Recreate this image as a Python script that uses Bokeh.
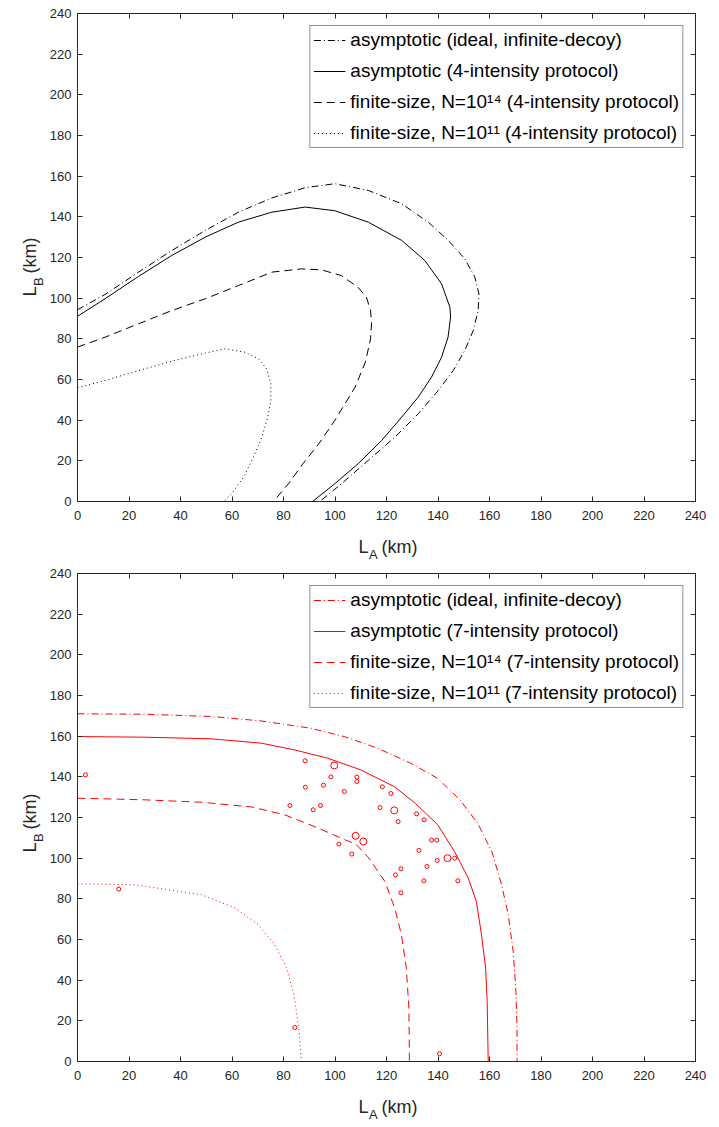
import math
from bokeh.plotting import figure
from bokeh.models import (Range1d, LinearAxis, FixedTicker, Legend, LegendItem, CustomJSTickFormatter)
from bokeh.layouts import column, row
from bokeh.embed import file_html
from bokeh.resources import INLINE
from bokeh.core.properties import value

# ---------------- data ----------------
ticks = [0, 20, 40, 60, 80, 100, 120, 140, 160, 180, 200, 220, 240]

# top panel (4-intensity protocol)
top_ideal_x = [0, 10.7, 23.7, 36.6, 49.6, 62.5, 75.5, 88.4, 99.9, 112.9, 125.9, 136.2, 144, 150.4, 154.3, 155.9,
               155.6, 153.7, 150.4, 145.9, 140.1, 132.3, 123.2, 112.9, 102.5, 94.1]
top_ideal_y = [94.3, 101.8, 112.8, 123.4, 133.3, 142.3, 149.3, 154.3, 156.3, 153, 146.4, 137.4, 128.4, 119.4, 110.3,
               102.1, 94, 84.1, 74.3, 64.4, 54.6, 43.1, 31.6, 20.2, 8.7, 0]

top_asym_x = [0, 10.7, 23.7, 36.6, 49.6, 62.5, 75.5, 88.4, 99.9, 112.9, 125.9, 134.9, 141.4, 144.6, 144.9, 143.9,
              141.4, 137.5, 132.3, 125.9, 118.1, 109, 99.9, 91.3]
top_asym_y = [91.1, 99.7, 110.7, 121, 130, 137.4, 142.3, 144.8, 143, 137.4, 128.4, 118.5, 107, 95.6, 90.7, 80.8,
              71, 61.2, 51.3, 41.5, 30, 18.6, 8.7, 0]

top_n14_x = [0, 10.7, 23.7, 36.6, 49.6, 62.5, 75.5, 87, 94.8, 102.5, 108.9, 112.2, 113.8, 114.2, 113.8, 111.8,
             107.7, 100, 93.5, 87.5, 81.9, 76.1]
top_n14_y = [75.9, 80.8, 87.4, 93.9, 99.7, 106.2, 112.8, 114.4, 113.9, 111.1, 105.4, 100.5, 93.9, 87.4, 80, 68.5,
             56, 40, 28, 18.5, 8.7, 0]

top_n11_x = [0, 10.7, 23.7, 36.6, 49.6, 57.3, 65.1, 70.3, 73.5, 75.1, 75.1, 73.9, 71.6, 68.3, 64.5, 59.9, 56.7]
top_n11_y = [55.9, 59.5, 64.4, 69, 73, 75.1, 73.4, 70.2, 65.2, 57.9, 49.7, 41.5, 31.6, 21.8, 12, 3.8, 0]

# bottom panel (7-intensity protocol)
bot_ideal_x = [0, 25.9, 51.8, 71.2, 90.6, 103.6, 116.5, 129.4, 139.8, 148.5, 155.5, 161, 164.7, 167.3, 169.2,
               170.2, 170.7, 170.7]
bot_ideal_y = [171, 170.8, 169.7, 167.5, 163.9, 159.8, 154.1, 146.7, 139.3, 128.7, 117, 102.9, 86.9, 72.1, 54.1,
               36.1, 16.4, 0]

bot_asym_x = [0, 25.9, 51.8, 71.2, 84.1, 97.1, 110, 123, 131.2, 139.9, 146.4, 151.7, 154.9, 156.9, 158.5, 159.1,
              159.5]
bot_asym_y = [159.8, 159.5, 158.7, 156.6, 153.3, 149.2, 143.4, 135.2, 127, 116.4, 103.3, 90.3, 78.7, 62.3, 45.9,
              29.5, 0]

bot_n14_x = [0, 25.9, 48.2, 67.6, 80.5, 93.5, 103.9, 108, 112.9, 119.4, 123.2, 125.8, 127.7, 128.7, 128.9]
bot_n14_y = [129.5, 128.7, 127.5, 125.2, 121.3, 114.8, 109, 107, 100.5, 88.5, 75.4, 62.3, 45.9, 26.2, 0]

bot_n11_x = [0, 22.3, 48.2, 61.2, 70.2, 76.6, 81.2, 84.1, 85.9, 87]
bot_n11_y = [87.4, 86.9, 82, 75.5, 67.3, 57.4, 45.9, 32.8, 16.4, 0]

# small closed contour artefacts in bottom panel
art_small_x = [3.1, 16, 88.4, 88.5, 95.5, 98.4, 108.5, 108.5, 103.6, 82.5, 91.5, 94.4, 118.4, 121.7, 117.5,
               124.5, 131.7, 134.6, 137.5, 139.5, 101.5, 106.5, 132.6, 139.7, 146.5, 135.7, 125.6, 123.5,
               134.5, 147.7, 125.6, 84.4, 140.6]
art_small_y = [141, 84.8, 147.9, 134.9, 135.9, 140, 139.9, 137.7, 132.8, 125.9, 123.8, 125.9, 135.1, 131.8,
               124.9, 118, 121.8, 118.9, 108.9, 108.9, 106.9, 102, 103.8, 98.9, 100, 95.9, 94.8, 91.8,
               88.9, 88.9, 83, 16.7, 3.8]
art_big_x = [99.7, 123, 108, 111, 143.7]
art_big_y = [145.6, 123.5, 111, 108.2, 100]

top_labels = ["asymptotic (ideal, infinite-decoy)",
              "asymptotic (4-intensity protocol)",
              "finite-size, N=10\u00b9\u2074 (4-intensity protocol)",
              "finite-size, N=10\u00b9\u00b9 (4-intensity protocol)"]
bot_labels = ["asymptotic (ideal, infinite-decoy)",
              "asymptotic (7-intensity protocol)",
              "finite-size, N=10\u00b9\u2074 (7-intensity protocol)",
              "finite-size, N=10\u00b9\u00b9 (7-intensity protocol)"]

x_title = ["L", "A", "(km)"]
y_title = ["L", "B", "(km)"]

FONT = "Liberation Sans"
AX = "#262626"
DASHES = ["7 3 1 3", "solid", "8 5", "1 3"]

# layout (pixels)
PAGE_W = 719
YLAB_W = 46
FRAME_W = 618
FRAME_H = 488
BOTTOM_B = 27


def make_fig(series, labels, color, top_border):
    p = figure(frame_width=FRAME_W, frame_height=FRAME_H, x_range=Range1d(0, 240), y_range=Range1d(0, 240),
               output_backend="svg", toolbar_location=None,
               min_border_left=76 - YLAB_W, min_border_right=PAGE_W - 76 - FRAME_W,
               min_border_top=top_border, min_border_bottom=BOTTOM_B,
               x_axis_type=None, y_axis_type=None)
    p.grid.visible = False
    p.outline_line_color = AX
    p.outline_line_width = 1
    p.background_fill_color = "white"
    p.border_fill_color = "white"

    def style(ax, labels_on=True):
        ax.ticker = FixedTicker(ticks=ticks)
        ax.major_tick_in = 5
        ax.major_tick_out = 0
        ax.minor_tick_line_color = None
        ax.axis_line_color = AX
        ax.major_tick_line_color = AX
        ax.major_label_text_font = FONT
        ax.major_label_text_font_size = "13px"
        ax.major_label_text_color = AX
        if not labels_on:
            ax.formatter = CustomJSTickFormatter(code="return ''")
            ax.major_label_standoff = 0
            ax.major_label_text_font_size = "0px"

    xb = LinearAxis(); style(xb); xb.major_label_standoff = 9
    yl = LinearAxis(); style(yl); yl.major_label_standoff = 6
    xt = LinearAxis(); style(xt, False)
    yr = LinearAxis(); style(yr, False)
    p.add_layout(xb, "below")
    p.add_layout(yl, "left")
    p.add_layout(xt, "above")
    p.add_layout(yr, "right")

    items = []
    for (xs, ys), dash, lab in zip(series, DASHES, labels):
        r = p.line(xs, ys, line_color=color, line_width=1, line_dash=dash)
        items.append(LegendItem(label=lab, renderers=[r]))

    leg = Legend(items=items, location="top_right", margin=12, padding=3, spacing=9,
                 glyph_width=32, glyph_height=20, label_height=20, label_standoff=5,
                 label_text_font=FONT, label_text_font_size="19px", label_text_color="#000000",
                 border_line_color=AX, border_line_width=1, background_fill_color="white",
                 background_fill_alpha=1)
    p.add_layout(leg)
    return p


def blank(w, h):
    f = figure(frame_width=w, frame_height=h, x_range=Range1d(0, w), y_range=Range1d(0, h),
               output_backend="svg", toolbar_location=None, min_border=0,
               x_axis_type=None, y_axis_type=None)
    f.grid.visible = False
    f.outline_line_color = None
    f.background_fill_color = "white"
    f.border_fill_color = "white"
    return f


def x_title_fig(h):
    f = blank(PAGE_W, h)
    f.text(x=[358], y=[h - 18], text=[x_title[0]], text_font=value(FONT), text_font_size="18px",
           text_color=AX, text_align="left", text_baseline="alphabetic")
    f.text(x=[368.5], y=[h - 26], text=[x_title[1]], text_font=value(FONT), text_font_size="13px",
           text_color=AX, text_align="left", text_baseline="alphabetic")
    f.text(x=[381], y=[h - 18], text=[x_title[2]], text_font=value(FONT), text_font_size="18px",
           text_color=AX, text_align="left", text_baseline="alphabetic")
    return f


def y_title_fig(h):
    f = blank(YLAB_W, h)
    a = math.pi / 2
    f.text(x=[29], y=[245], text=[y_title[0]], angle=a, text_font=value(FONT), text_font_size="18px",
           text_color=AX, text_align="left", text_baseline="alphabetic")
    f.text(x=[38], y=[255.5], text=[y_title[1]], angle=a, text_font=value(FONT), text_font_size="13px",
           text_color=AX, text_align="left", text_baseline="alphabetic")
    f.text(x=[29], y=[268], text=[y_title[2]], angle=a, text_font=value(FONT), text_font_size="18px",
           text_color=AX, text_align="left", text_baseline="alphabetic")
    return f


TOP_B1 = 13
TOP_B2 = 9
XT_H1 = 36
XT_H2 = 35

p1 = make_fig([(top_ideal_x, top_ideal_y), (top_asym_x, top_asym_y), (top_n14_x, top_n14_y),
               (top_n11_x, top_n11_y)], top_labels, "#000000", TOP_B1)
p2 = make_fig([(bot_ideal_x, bot_ideal_y), (bot_asym_x, bot_asym_y), (bot_n14_x, bot_n14_y),
               (bot_n11_x, bot_n11_y)], bot_labels, "#FF0000", TOP_B2)
p2.scatter(art_small_x, art_small_y, marker="circle", size=4, fill_color=None, line_color="#FF0000", line_width=1)
p2.scatter(art_big_x, art_big_y, marker="circle", size=7, fill_color=None, line_color="#FF0000", line_width=1)

H1 = TOP_B1 + FRAME_H + BOTTOM_B
H2 = TOP_B2 + FRAME_H + BOTTOM_B

layout = column(
    row(y_title_fig(H1), p1, spacing=0),
    x_title_fig(XT_H1),
    row(y_title_fig(H2), p2, spacing=0),
    x_title_fig(XT_H2),
    spacing=0,
)
open("out.html", "w").write(file_html(layout, INLINE))
